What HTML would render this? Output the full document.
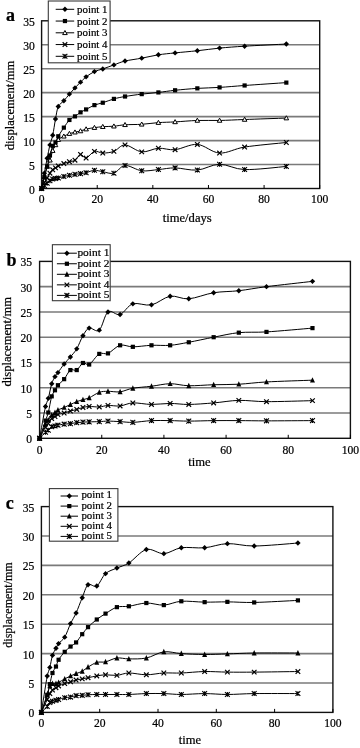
<!DOCTYPE html>
<html><head><meta charset="utf-8"><title>displacement charts</title>
<style>
html,body{margin:0;padding:0;background:#fff;width:360px;height:748px;overflow:hidden;}
svg{display:block;will-change:transform;}
svg text{font-family:"Liberation Serif", serif;stroke:#000;stroke-width:0.22px;}
</style></head><body>
<svg width="360" height="748" viewBox="0 0 360 748" font-family='"Liberation Serif", serif' fill="#000">
<line x1="41.60" y1="164.54" x2="319.70" y2="164.54" stroke="#7a7a7a" stroke-width="1.60"/>
<line x1="41.60" y1="140.59" x2="319.70" y2="140.59" stroke="#7a7a7a" stroke-width="1.60"/>
<line x1="41.60" y1="116.63" x2="319.70" y2="116.63" stroke="#7a7a7a" stroke-width="1.60"/>
<line x1="41.60" y1="92.67" x2="319.70" y2="92.67" stroke="#7a7a7a" stroke-width="1.60"/>
<line x1="41.60" y1="68.71" x2="319.70" y2="68.71" stroke="#7a7a7a" stroke-width="1.60"/>
<line x1="41.60" y1="44.76" x2="319.70" y2="44.76" stroke="#7a7a7a" stroke-width="1.60"/>
<rect x="41.60" y="20.80" width="278.10" height="167.70" fill="none" stroke="#111" stroke-width="1.40"/>
<line x1="41.60" y1="188.50" x2="41.60" y2="185.00" stroke="#000" stroke-width="1"/>
<line x1="97.22" y1="188.50" x2="97.22" y2="185.00" stroke="#000" stroke-width="1"/>
<line x1="152.84" y1="188.50" x2="152.84" y2="185.00" stroke="#000" stroke-width="1"/>
<line x1="208.46" y1="188.50" x2="208.46" y2="185.00" stroke="#000" stroke-width="1"/>
<line x1="264.08" y1="188.50" x2="264.08" y2="185.00" stroke="#000" stroke-width="1"/>
<line x1="319.70" y1="188.50" x2="319.70" y2="185.00" stroke="#000" stroke-width="1"/>
<text x="34.80" y="193.50" text-anchor="end" font-size="11.60">0</text>
<text x="34.80" y="169.54" text-anchor="end" font-size="11.60">5</text>
<text x="34.80" y="145.59" text-anchor="end" font-size="11.60">10</text>
<text x="34.80" y="121.63" text-anchor="end" font-size="11.60">15</text>
<text x="34.80" y="97.67" text-anchor="end" font-size="11.60">20</text>
<text x="34.80" y="73.71" text-anchor="end" font-size="11.60">25</text>
<text x="34.80" y="49.76" text-anchor="end" font-size="11.60">30</text>
<text x="34.80" y="25.80" text-anchor="end" font-size="11.60">35</text>
<text x="41.60" y="203.40" text-anchor="middle" font-size="11.60">0</text>
<text x="97.22" y="203.40" text-anchor="middle" font-size="11.60">20</text>
<text x="152.84" y="203.40" text-anchor="middle" font-size="11.60">40</text>
<text x="208.46" y="203.40" text-anchor="middle" font-size="11.60">60</text>
<text x="264.08" y="203.40" text-anchor="middle" font-size="11.60">80</text>
<text x="319.70" y="203.40" text-anchor="middle" font-size="11.60">100</text>
<text x="187.20" y="222.30" text-anchor="middle" font-size="12.60">time/days</text>
<text transform="translate(14.00 105.50) rotate(-90)" text-anchor="middle" font-size="12.60">displacement/mm</text>
<text x="6.00" y="20.80" font-size="18.00" font-weight="bold">a</text>
<path d="M41.60 188.50 C42.06 188.02 43.45 186.50 44.38 185.63 C45.31 184.75 46.23 184.03 47.16 183.23 C48.09 182.43 49.02 181.55 49.94 180.83 C50.87 180.12 51.80 179.32 52.72 178.92 C53.65 178.52 54.58 178.60 55.50 178.44 C56.43 178.28 57.19 178.21 58.29 177.96 C59.68 177.64 61.99 176.96 63.85 176.52 C65.70 176.08 67.56 175.68 69.41 175.32 C71.26 174.96 73.12 174.64 74.97 174.37 C76.83 174.09 78.68 173.93 80.53 173.65 C82.39 173.37 83.90 173.22 86.10 172.69 C88.41 172.13 91.66 170.45 94.44 170.29 C97.22 170.13 99.54 171.25 102.78 171.73 C106.03 172.21 110.20 174.21 113.91 173.17 C117.61 172.13 120.39 165.90 125.03 165.50 C129.66 165.10 136.15 170.09 141.72 170.77 C147.28 171.45 152.84 170.05 158.40 169.57 C163.96 169.09 168.60 167.82 175.09 167.90 C181.58 167.98 189.92 170.65 197.34 170.05 C204.75 169.45 211.70 164.38 219.58 164.30 C227.46 164.22 234.39 169.24 244.61 169.57 C255.74 169.93 279.38 166.98 286.33 166.46" fill="none" stroke="#000" stroke-width="1.00"/>
<path d="M39.20 186.10L44.00 190.90M39.20 190.90L44.00 186.10M41.60 186.10L41.60 190.90" stroke="#000" stroke-width="1.1"/>
<path d="M41.98 183.23L46.78 188.03M41.98 188.03L46.78 183.23M44.38 183.23L44.38 188.03" stroke="#000" stroke-width="1.1"/>
<path d="M44.76 180.83L49.56 185.63M44.76 185.63L49.56 180.83M47.16 180.83L47.16 185.63" stroke="#000" stroke-width="1.1"/>
<path d="M47.54 178.43L52.34 183.23M47.54 183.23L52.34 178.43M49.94 178.43L49.94 183.23" stroke="#000" stroke-width="1.1"/>
<path d="M50.32 176.52L55.12 181.32M50.32 181.32L55.12 176.52M52.72 176.52L52.72 181.32" stroke="#000" stroke-width="1.1"/>
<path d="M53.10 176.04L57.90 180.84M53.10 180.84L57.90 176.04M55.50 176.04L55.50 180.84" stroke="#000" stroke-width="1.1"/>
<path d="M55.89 175.56L60.69 180.36M55.89 180.36L60.69 175.56M58.29 175.56L58.29 180.36" stroke="#000" stroke-width="1.1"/>
<path d="M61.45 174.12L66.25 178.92M61.45 178.92L66.25 174.12M63.85 174.12L63.85 178.92" stroke="#000" stroke-width="1.1"/>
<path d="M67.01 172.92L71.81 177.72M67.01 177.72L71.81 172.92M69.41 172.92L69.41 177.72" stroke="#000" stroke-width="1.1"/>
<path d="M72.57 171.97L77.37 176.77M72.57 176.77L77.37 171.97M74.97 171.97L74.97 176.77" stroke="#000" stroke-width="1.1"/>
<path d="M78.13 171.25L82.93 176.05M78.13 176.05L82.93 171.25M80.53 171.25L80.53 176.05" stroke="#000" stroke-width="1.1"/>
<path d="M83.70 170.29L88.50 175.09M83.70 175.09L88.50 170.29M86.10 170.29L86.10 175.09" stroke="#000" stroke-width="1.1"/>
<path d="M92.04 167.89L96.84 172.69M92.04 172.69L96.84 167.89M94.44 167.89L94.44 172.69" stroke="#000" stroke-width="1.1"/>
<path d="M100.38 169.33L105.18 174.13M100.38 174.13L105.18 169.33M102.78 169.33L102.78 174.13" stroke="#000" stroke-width="1.1"/>
<path d="M111.51 170.77L116.31 175.57M111.51 175.57L116.31 170.77M113.91 170.77L113.91 175.57" stroke="#000" stroke-width="1.1"/>
<path d="M122.63 163.10L127.43 167.90M122.63 167.90L127.43 163.10M125.03 163.10L125.03 167.90" stroke="#000" stroke-width="1.1"/>
<path d="M139.32 168.37L144.12 173.17M139.32 173.17L144.12 168.37M141.72 168.37L141.72 173.17" stroke="#000" stroke-width="1.1"/>
<path d="M156.00 167.17L160.80 171.97M156.00 171.97L160.80 167.17M158.40 167.17L158.40 171.97" stroke="#000" stroke-width="1.1"/>
<path d="M172.69 165.50L177.49 170.30M172.69 170.30L177.49 165.50M175.09 165.50L175.09 170.30" stroke="#000" stroke-width="1.1"/>
<path d="M194.94 167.65L199.74 172.45M194.94 172.45L199.74 167.65M197.34 167.65L197.34 172.45" stroke="#000" stroke-width="1.1"/>
<path d="M217.18 161.90L221.98 166.70M217.18 166.70L221.98 161.90M219.58 161.90L219.58 166.70" stroke="#000" stroke-width="1.1"/>
<path d="M242.21 167.17L247.01 171.97M242.21 171.97L247.01 167.17M244.61 167.17L244.61 171.97" stroke="#000" stroke-width="1.1"/>
<path d="M283.93 164.06L288.73 168.86M283.93 168.86L288.73 164.06M286.33 164.06L286.33 168.86" stroke="#000" stroke-width="1.1"/>
<path d="M41.60 188.50 C42.06 187.50 43.45 184.27 44.38 182.51 C45.31 180.75 46.23 179.52 47.16 177.96 C48.09 176.40 49.02 174.52 49.94 173.17 C50.87 171.81 51.80 170.69 52.72 169.81 C53.65 168.94 54.58 168.54 55.50 167.90 C56.43 167.26 57.09 166.60 58.29 165.98 C59.68 165.26 61.99 164.30 63.85 163.58 C65.70 162.87 67.56 162.23 69.41 161.67 C71.26 161.11 73.12 161.43 74.97 160.23 C76.83 159.03 78.68 154.84 80.53 154.48 C82.39 154.12 83.78 158.59 86.10 158.07 C88.41 157.56 91.66 152.20 94.44 151.37 C97.22 150.53 99.54 153.04 102.78 153.04 C106.03 153.04 110.20 152.72 113.91 151.37 C117.61 150.01 120.39 144.82 125.03 144.90 C129.66 144.98 136.15 151.29 141.72 151.85 C147.28 152.40 152.84 148.61 158.40 148.25 C163.96 147.89 168.60 150.33 175.09 149.69 C181.58 149.05 189.92 143.86 197.34 144.42 C204.75 144.98 211.70 152.60 219.58 153.04 C227.46 153.48 234.44 148.66 244.61 147.05 C255.74 145.30 279.38 143.26 286.33 142.50" fill="none" stroke="#000" stroke-width="1.00"/>
<path d="M39.30 186.20L43.90 190.80M39.30 190.80L43.90 186.20" stroke="#000" stroke-width="1.2"/>
<path d="M42.08 180.21L46.68 184.81M42.08 184.81L46.68 180.21" stroke="#000" stroke-width="1.2"/>
<path d="M44.86 175.66L49.46 180.26M44.86 180.26L49.46 175.66" stroke="#000" stroke-width="1.2"/>
<path d="M47.64 170.87L52.24 175.47M47.64 175.47L52.24 170.87" stroke="#000" stroke-width="1.2"/>
<path d="M50.42 167.51L55.02 172.11M50.42 172.11L55.02 167.51" stroke="#000" stroke-width="1.2"/>
<path d="M53.20 165.60L57.80 170.20M53.20 170.20L57.80 165.60" stroke="#000" stroke-width="1.2"/>
<path d="M55.99 163.68L60.59 168.28M55.99 168.28L60.59 163.68" stroke="#000" stroke-width="1.2"/>
<path d="M61.55 161.28L66.15 165.88M61.55 165.88L66.15 161.28" stroke="#000" stroke-width="1.2"/>
<path d="M67.11 159.37L71.71 163.97M67.11 163.97L71.71 159.37" stroke="#000" stroke-width="1.2"/>
<path d="M72.67 157.93L77.27 162.53M72.67 162.53L77.27 157.93" stroke="#000" stroke-width="1.2"/>
<path d="M78.23 152.18L82.83 156.78M78.23 156.78L82.83 152.18" stroke="#000" stroke-width="1.2"/>
<path d="M83.80 155.77L88.40 160.37M83.80 160.37L88.40 155.77" stroke="#000" stroke-width="1.2"/>
<path d="M92.14 149.07L96.74 153.67M92.14 153.67L96.74 149.07" stroke="#000" stroke-width="1.2"/>
<path d="M100.48 150.74L105.08 155.34M100.48 155.34L105.08 150.74" stroke="#000" stroke-width="1.2"/>
<path d="M111.61 149.07L116.21 153.67M111.61 153.67L116.21 149.07" stroke="#000" stroke-width="1.2"/>
<path d="M122.73 142.60L127.33 147.20M122.73 147.20L127.33 142.60" stroke="#000" stroke-width="1.2"/>
<path d="M139.42 149.55L144.02 154.15M139.42 154.15L144.02 149.55" stroke="#000" stroke-width="1.2"/>
<path d="M156.10 145.95L160.70 150.55M156.10 150.55L160.70 145.95" stroke="#000" stroke-width="1.2"/>
<path d="M172.79 147.39L177.39 151.99M172.79 151.99L177.39 147.39" stroke="#000" stroke-width="1.2"/>
<path d="M195.04 142.12L199.64 146.72M195.04 146.72L199.64 142.12" stroke="#000" stroke-width="1.2"/>
<path d="M217.28 150.74L221.88 155.34M217.28 155.34L221.88 150.74" stroke="#000" stroke-width="1.2"/>
<path d="M242.31 144.75L246.91 149.35M242.31 149.35L246.91 144.75" stroke="#000" stroke-width="1.2"/>
<path d="M284.03 140.20L288.63 144.80M284.03 144.80L288.63 140.20" stroke="#000" stroke-width="1.2"/>
<path d="M41.60 188.50 C42.06 186.58 43.45 180.67 44.38 177.00 C45.31 173.33 46.23 169.25 47.16 166.46 C48.02 163.87 49.04 162.80 49.94 160.23 C50.87 157.60 51.80 153.20 52.72 150.65 C53.60 148.25 54.58 146.73 55.50 144.90 C56.43 143.06 56.90 141.06 58.29 139.63 C59.68 138.19 61.99 137.27 63.85 136.27 C65.70 135.28 67.56 134.32 69.41 133.64 C71.26 132.96 73.12 132.64 74.97 132.20 C76.83 131.76 78.68 131.52 80.53 131.00 C82.39 130.48 83.81 129.64 86.10 129.09 C88.41 128.53 91.66 128.05 94.44 127.65 C97.22 127.25 99.54 126.93 102.78 126.69 C106.03 126.45 110.20 126.53 113.91 126.21 C117.61 125.89 120.55 125.08 125.03 124.77 C129.66 124.45 136.15 124.65 141.72 124.29 C147.28 123.94 152.84 123.02 158.40 122.62 C163.96 122.22 168.60 122.26 175.09 121.90 C181.58 121.54 189.92 120.70 197.34 120.46 C204.75 120.22 211.70 120.62 219.58 120.46 C227.46 120.30 234.60 119.86 244.61 119.50 C255.74 119.10 279.38 118.31 286.33 118.07" fill="none" stroke="#000" stroke-width="1.00"/>
<path d="M41.60 186.20L43.90 190.28L39.30 190.28Z" fill="#fff" stroke="#000" stroke-width="1"/>
<path d="M44.38 174.70L46.68 178.78L42.08 178.78Z" fill="#fff" stroke="#000" stroke-width="1"/>
<path d="M47.16 164.16L49.46 168.24L44.86 168.24Z" fill="#fff" stroke="#000" stroke-width="1"/>
<path d="M49.94 157.93L52.24 162.01L47.64 162.01Z" fill="#fff" stroke="#000" stroke-width="1"/>
<path d="M52.72 148.35L55.02 152.43L50.42 152.43Z" fill="#fff" stroke="#000" stroke-width="1"/>
<path d="M55.50 142.60L57.80 146.68L53.20 146.68Z" fill="#fff" stroke="#000" stroke-width="1"/>
<path d="M58.29 137.33L60.59 141.41L55.99 141.41Z" fill="#fff" stroke="#000" stroke-width="1"/>
<path d="M63.85 133.97L66.15 138.05L61.55 138.05Z" fill="#fff" stroke="#000" stroke-width="1"/>
<path d="M69.41 131.34L71.71 135.42L67.11 135.42Z" fill="#fff" stroke="#000" stroke-width="1"/>
<path d="M74.97 129.90L77.27 133.98L72.67 133.98Z" fill="#fff" stroke="#000" stroke-width="1"/>
<path d="M80.53 128.70L82.83 132.78L78.23 132.78Z" fill="#fff" stroke="#000" stroke-width="1"/>
<path d="M86.10 126.79L88.40 130.87L83.80 130.87Z" fill="#fff" stroke="#000" stroke-width="1"/>
<path d="M94.44 125.35L96.74 129.43L92.14 129.43Z" fill="#fff" stroke="#000" stroke-width="1"/>
<path d="M102.78 124.39L105.08 128.47L100.48 128.47Z" fill="#fff" stroke="#000" stroke-width="1"/>
<path d="M113.91 123.91L116.21 127.99L111.61 127.99Z" fill="#fff" stroke="#000" stroke-width="1"/>
<path d="M125.03 122.47L127.33 126.55L122.73 126.55Z" fill="#fff" stroke="#000" stroke-width="1"/>
<path d="M141.72 121.99L144.02 126.07L139.42 126.07Z" fill="#fff" stroke="#000" stroke-width="1"/>
<path d="M158.40 120.32L160.70 124.40L156.10 124.40Z" fill="#fff" stroke="#000" stroke-width="1"/>
<path d="M175.09 119.60L177.39 123.68L172.79 123.68Z" fill="#fff" stroke="#000" stroke-width="1"/>
<path d="M197.34 118.16L199.64 122.24L195.04 122.24Z" fill="#fff" stroke="#000" stroke-width="1"/>
<path d="M219.58 118.16L221.88 122.24L217.28 122.24Z" fill="#fff" stroke="#000" stroke-width="1"/>
<path d="M244.61 117.20L246.91 121.28L242.31 121.28Z" fill="#fff" stroke="#000" stroke-width="1"/>
<path d="M286.33 115.77L288.63 119.85L284.03 119.85Z" fill="#fff" stroke="#000" stroke-width="1"/>
<path d="M41.60 188.50 C42.06 186.58 43.45 180.67 44.38 177.00 C45.31 173.33 46.23 170.05 47.16 166.46 C48.09 162.87 49.02 158.87 49.94 155.44 C50.87 152.01 51.80 148.01 52.72 145.86 C53.41 144.26 54.63 144.01 55.50 142.50 C56.43 140.91 56.95 138.65 58.29 136.27 C59.68 133.80 61.99 130.36 63.85 127.65 C65.70 124.93 67.56 121.86 69.41 119.98 C71.26 118.11 73.12 117.67 74.97 116.39 C76.83 115.11 78.68 113.47 80.53 112.32 C82.39 111.16 83.87 110.59 86.10 109.44 C88.41 108.24 91.66 106.25 94.44 105.13 C97.22 104.01 99.54 103.77 102.78 102.73 C106.03 101.70 110.20 99.94 113.91 98.90 C117.61 97.86 120.54 97.28 125.03 96.50 C129.66 95.71 136.15 94.79 141.72 94.11 C147.28 93.43 152.84 93.07 158.40 92.43 C163.96 91.79 168.60 90.95 175.09 90.28 C181.58 89.60 189.92 88.84 197.34 88.36 C204.75 87.88 211.70 87.88 219.58 87.40 C227.46 86.92 234.60 86.20 244.61 85.48 C255.74 84.69 279.38 83.09 286.33 82.61" fill="none" stroke="#000" stroke-width="1.00"/>
<rect x="39.50" y="186.40" width="4.20" height="4.20" fill="#000"/>
<rect x="42.28" y="174.90" width="4.20" height="4.20" fill="#000"/>
<rect x="45.06" y="164.36" width="4.20" height="4.20" fill="#000"/>
<rect x="47.84" y="153.34" width="4.20" height="4.20" fill="#000"/>
<rect x="50.62" y="143.76" width="4.20" height="4.20" fill="#000"/>
<rect x="53.40" y="140.40" width="4.20" height="4.20" fill="#000"/>
<rect x="56.19" y="134.17" width="4.20" height="4.20" fill="#000"/>
<rect x="61.75" y="125.55" width="4.20" height="4.20" fill="#000"/>
<rect x="67.31" y="117.88" width="4.20" height="4.20" fill="#000"/>
<rect x="72.87" y="114.29" width="4.20" height="4.20" fill="#000"/>
<rect x="78.43" y="110.22" width="4.20" height="4.20" fill="#000"/>
<rect x="84.00" y="107.34" width="4.20" height="4.20" fill="#000"/>
<rect x="92.34" y="103.03" width="4.20" height="4.20" fill="#000"/>
<rect x="100.68" y="100.63" width="4.20" height="4.20" fill="#000"/>
<rect x="111.81" y="96.80" width="4.20" height="4.20" fill="#000"/>
<rect x="122.93" y="94.40" width="4.20" height="4.20" fill="#000"/>
<rect x="139.62" y="92.01" width="4.20" height="4.20" fill="#000"/>
<rect x="156.30" y="90.33" width="4.20" height="4.20" fill="#000"/>
<rect x="172.99" y="88.18" width="4.20" height="4.20" fill="#000"/>
<rect x="195.24" y="86.26" width="4.20" height="4.20" fill="#000"/>
<rect x="217.48" y="85.30" width="4.20" height="4.20" fill="#000"/>
<rect x="242.51" y="83.38" width="4.20" height="4.20" fill="#000"/>
<rect x="284.23" y="80.51" width="4.20" height="4.20" fill="#000"/>
<path d="M41.60 188.50 C42.06 185.94 43.45 178.20 44.38 173.17 C45.31 168.14 46.23 163.03 47.16 158.31 C48.09 153.60 49.02 148.73 49.94 144.90 C50.87 141.06 51.89 139.22 52.72 135.32 C53.65 131.00 54.58 123.82 55.50 119.02 C56.43 114.23 56.90 109.60 58.29 106.57 C59.62 103.66 61.99 102.89 63.85 100.82 C65.70 98.74 67.56 96.27 69.41 94.11 C71.26 91.95 73.12 89.88 74.97 87.88 C76.83 85.88 78.68 83.97 80.53 82.13 C82.39 80.29 83.78 78.62 86.10 76.86 C88.41 75.10 91.66 72.91 94.44 71.59 C97.22 70.27 99.54 70.07 102.78 68.95 C106.03 67.84 110.20 66.20 113.91 64.88 C117.61 63.56 120.45 62.15 125.03 61.05 C129.66 59.93 136.15 59.21 141.72 58.17 C147.28 57.14 152.84 55.70 158.40 54.82 C163.96 53.94 168.60 53.58 175.09 52.90 C181.58 52.22 189.92 51.54 197.34 50.75 C204.75 49.95 211.70 48.87 219.58 48.11 C227.46 47.35 234.59 46.81 244.61 46.19 C255.74 45.52 279.38 44.40 286.33 44.04" fill="none" stroke="#000" stroke-width="1.00"/>
<path d="M41.60 185.80L44.30 188.50L41.60 191.20L38.90 188.50Z" fill="#000"/>
<path d="M44.38 170.47L47.08 173.17L44.38 175.87L41.68 173.17Z" fill="#000"/>
<path d="M47.16 155.61L49.86 158.31L47.16 161.01L44.46 158.31Z" fill="#000"/>
<path d="M49.94 142.20L52.64 144.90L49.94 147.60L47.24 144.90Z" fill="#000"/>
<path d="M52.72 132.62L55.42 135.32L52.72 138.02L50.02 135.32Z" fill="#000"/>
<path d="M55.50 116.32L58.20 119.02L55.50 121.72L52.80 119.02Z" fill="#000"/>
<path d="M58.29 103.87L60.99 106.57L58.29 109.27L55.59 106.57Z" fill="#000"/>
<path d="M63.85 98.12L66.55 100.82L63.85 103.52L61.15 100.82Z" fill="#000"/>
<path d="M69.41 91.41L72.11 94.11L69.41 96.81L66.71 94.11Z" fill="#000"/>
<path d="M74.97 85.18L77.67 87.88L74.97 90.58L72.27 87.88Z" fill="#000"/>
<path d="M80.53 79.43L83.23 82.13L80.53 84.83L77.83 82.13Z" fill="#000"/>
<path d="M86.10 74.16L88.80 76.86L86.10 79.56L83.40 76.86Z" fill="#000"/>
<path d="M94.44 68.89L97.14 71.59L94.44 74.29L91.74 71.59Z" fill="#000"/>
<path d="M102.78 66.25L105.48 68.95L102.78 71.65L100.08 68.95Z" fill="#000"/>
<path d="M113.91 62.18L116.61 64.88L113.91 67.58L111.21 64.88Z" fill="#000"/>
<path d="M125.03 58.35L127.73 61.05L125.03 63.75L122.33 61.05Z" fill="#000"/>
<path d="M141.72 55.47L144.42 58.17L141.72 60.87L139.02 58.17Z" fill="#000"/>
<path d="M158.40 52.12L161.10 54.82L158.40 57.52L155.70 54.82Z" fill="#000"/>
<path d="M175.09 50.20L177.79 52.90L175.09 55.60L172.39 52.90Z" fill="#000"/>
<path d="M197.34 48.05L200.04 50.75L197.34 53.45L194.64 50.75Z" fill="#000"/>
<path d="M219.58 45.41L222.28 48.11L219.58 50.81L216.88 48.11Z" fill="#000"/>
<path d="M244.61 43.49L247.31 46.19L244.61 48.89L241.91 46.19Z" fill="#000"/>
<path d="M286.33 41.34L289.03 44.04L286.33 46.74L283.63 44.04Z" fill="#000"/>
<rect x="48.30" y="1.00" width="61.80" height="61.80" fill="#fff" stroke="#3a3a3a" stroke-width="1.1"/>
<line x1="55.70" y1="9.30" x2="74.20" y2="9.30" stroke="#000" stroke-width="1"/>
<path d="M64.95 6.60L67.65 9.30L64.95 12.00L62.25 9.30Z" fill="#000"/>
<text x="77.00" y="12.90" font-size="10.90">point 1</text>
<line x1="55.70" y1="21.05" x2="74.20" y2="21.05" stroke="#000" stroke-width="1"/>
<rect x="62.85" y="18.95" width="4.20" height="4.20" fill="#000"/>
<text x="77.00" y="24.65" font-size="10.90">point 2</text>
<line x1="55.70" y1="32.80" x2="74.20" y2="32.80" stroke="#000" stroke-width="1"/>
<path d="M64.95 30.50L67.25 34.58L62.65 34.58Z" fill="#fff" stroke="#000" stroke-width="1"/>
<text x="77.00" y="36.40" font-size="10.90">point 3</text>
<line x1="55.70" y1="44.55" x2="74.20" y2="44.55" stroke="#000" stroke-width="1"/>
<path d="M62.65 42.25L67.25 46.85M62.65 46.85L67.25 42.25" stroke="#000" stroke-width="1.2"/>
<text x="77.00" y="48.15" font-size="10.90">point 4</text>
<line x1="55.70" y1="56.30" x2="74.20" y2="56.30" stroke="#000" stroke-width="1"/>
<path d="M62.55 53.90L67.35 58.70M62.55 58.70L67.35 53.90M64.95 53.90L64.95 58.70" stroke="#000" stroke-width="1.1"/>
<text x="77.00" y="59.90" font-size="10.90">point 5</text>
<line x1="39.60" y1="413.03" x2="350.40" y2="413.03" stroke="#7a7a7a" stroke-width="1.60"/>
<line x1="39.60" y1="387.76" x2="350.40" y2="387.76" stroke="#7a7a7a" stroke-width="1.60"/>
<line x1="39.60" y1="362.49" x2="350.40" y2="362.49" stroke="#7a7a7a" stroke-width="1.60"/>
<line x1="39.60" y1="337.21" x2="350.40" y2="337.21" stroke="#7a7a7a" stroke-width="1.60"/>
<line x1="39.60" y1="311.94" x2="350.40" y2="311.94" stroke="#7a7a7a" stroke-width="1.60"/>
<line x1="39.60" y1="286.67" x2="350.40" y2="286.67" stroke="#7a7a7a" stroke-width="1.60"/>
<rect x="39.60" y="261.40" width="310.80" height="176.90" fill="none" stroke="#111" stroke-width="1.40"/>
<line x1="39.60" y1="438.30" x2="39.60" y2="434.80" stroke="#000" stroke-width="1"/>
<line x1="101.76" y1="438.30" x2="101.76" y2="434.80" stroke="#000" stroke-width="1"/>
<line x1="163.92" y1="438.30" x2="163.92" y2="434.80" stroke="#000" stroke-width="1"/>
<line x1="226.08" y1="438.30" x2="226.08" y2="434.80" stroke="#000" stroke-width="1"/>
<line x1="288.24" y1="438.30" x2="288.24" y2="434.80" stroke="#000" stroke-width="1"/>
<line x1="350.40" y1="438.30" x2="350.40" y2="434.80" stroke="#000" stroke-width="1"/>
<text x="32.00" y="443.30" text-anchor="end" font-size="11.60">0</text>
<text x="32.00" y="418.03" text-anchor="end" font-size="11.60">5</text>
<text x="32.00" y="392.76" text-anchor="end" font-size="11.60">10</text>
<text x="32.00" y="367.49" text-anchor="end" font-size="11.60">15</text>
<text x="32.00" y="342.21" text-anchor="end" font-size="11.60">20</text>
<text x="32.00" y="316.94" text-anchor="end" font-size="11.60">25</text>
<text x="32.00" y="291.67" text-anchor="end" font-size="11.60">30</text>
<text x="32.00" y="266.40" text-anchor="end" font-size="11.60">35</text>
<text x="39.60" y="453.60" text-anchor="middle" font-size="11.60">0</text>
<text x="101.76" y="453.60" text-anchor="middle" font-size="11.60">20</text>
<text x="163.92" y="453.60" text-anchor="middle" font-size="11.60">40</text>
<text x="226.08" y="453.60" text-anchor="middle" font-size="11.60">60</text>
<text x="288.24" y="453.60" text-anchor="middle" font-size="11.60">80</text>
<text x="350.40" y="453.60" text-anchor="middle" font-size="11.60">100</text>
<text x="199.40" y="466.00" text-anchor="middle" font-size="12.60">time</text>
<text transform="translate(10.50 341.80) rotate(-90)" text-anchor="middle" font-size="12.60">displacement/mm</text>
<text x="6.40" y="265.70" font-size="18.00" font-weight="bold">b</text>
<path d="M39.60 438.30 C40.58 437.29 44.05 433.58 45.51 432.23 C46.52 431.30 47.27 431.13 48.30 430.21 C49.34 429.29 50.61 427.39 51.72 426.68 C52.83 425.96 53.95 426.17 54.98 425.92 C56.02 425.66 56.74 425.39 57.94 425.16 C59.47 424.86 62.08 424.40 64.15 424.15 C66.23 423.90 68.27 423.90 70.37 423.64 C72.47 423.39 74.64 422.88 76.74 422.63 C78.84 422.38 80.88 422.25 82.96 422.13 C85.03 422.00 86.69 421.95 89.17 421.87 C91.89 421.79 96.14 421.75 99.27 421.62 C102.41 421.49 104.51 421.12 107.98 421.12 C111.45 421.12 115.95 421.41 120.10 421.62 C124.24 421.83 127.74 422.54 132.84 422.38 C138.07 422.21 145.27 420.90 151.49 420.61 C157.70 420.32 163.92 420.53 170.14 420.61 C176.35 420.69 181.53 421.12 188.78 421.12 C196.04 421.12 205.31 420.69 213.65 420.61 C221.99 420.53 230.02 420.57 238.82 420.61 C247.63 420.65 255.42 420.86 266.48 420.86 C278.76 420.86 304.82 420.65 312.48 420.61" fill="none" stroke="#000" stroke-width="1.00"/>
<path d="M37.20 435.90L42.00 440.70M37.20 440.70L42.00 435.90M39.60 435.90L39.60 440.70" stroke="#000" stroke-width="1.1"/>
<path d="M43.11 429.83L47.91 434.63M43.11 434.63L47.91 429.83M45.51 429.83L45.51 434.63" stroke="#000" stroke-width="1.1"/>
<path d="M45.90 427.81L50.70 432.61M45.90 432.61L50.70 427.81M48.30 427.81L48.30 432.61" stroke="#000" stroke-width="1.1"/>
<path d="M49.32 424.28L54.12 429.08M49.32 429.08L54.12 424.28M51.72 424.28L51.72 429.08" stroke="#000" stroke-width="1.1"/>
<path d="M52.58 423.52L57.38 428.32M52.58 428.32L57.38 423.52M54.98 423.52L54.98 428.32" stroke="#000" stroke-width="1.1"/>
<path d="M55.54 422.76L60.34 427.56M55.54 427.56L60.34 422.76M57.94 422.76L57.94 427.56" stroke="#000" stroke-width="1.1"/>
<path d="M61.75 421.75L66.55 426.55M61.75 426.55L66.55 421.75M64.15 421.75L64.15 426.55" stroke="#000" stroke-width="1.1"/>
<path d="M67.97 421.24L72.77 426.04M67.97 426.04L72.77 421.24M70.37 421.24L70.37 426.04" stroke="#000" stroke-width="1.1"/>
<path d="M74.34 420.23L79.14 425.03M74.34 425.03L79.14 420.23M76.74 420.23L76.74 425.03" stroke="#000" stroke-width="1.1"/>
<path d="M80.56 419.73L85.36 424.53M80.56 424.53L85.36 419.73M82.96 419.73L82.96 424.53" stroke="#000" stroke-width="1.1"/>
<path d="M86.77 419.47L91.57 424.27M86.77 424.27L91.57 419.47M89.17 419.47L89.17 424.27" stroke="#000" stroke-width="1.1"/>
<path d="M96.87 419.22L101.67 424.02M96.87 424.02L101.67 419.22M99.27 419.22L99.27 424.02" stroke="#000" stroke-width="1.1"/>
<path d="M105.58 418.72L110.38 423.52M105.58 423.52L110.38 418.72M107.98 418.72L107.98 423.52" stroke="#000" stroke-width="1.1"/>
<path d="M117.70 419.22L122.50 424.02M117.70 424.02L122.50 419.22M120.10 419.22L120.10 424.02" stroke="#000" stroke-width="1.1"/>
<path d="M130.44 419.98L135.24 424.78M130.44 424.78L135.24 419.98M132.84 419.98L132.84 424.78" stroke="#000" stroke-width="1.1"/>
<path d="M149.09 418.21L153.89 423.01M149.09 423.01L153.89 418.21M151.49 418.21L151.49 423.01" stroke="#000" stroke-width="1.1"/>
<path d="M167.74 418.21L172.54 423.01M167.74 423.01L172.54 418.21M170.14 418.21L170.14 423.01" stroke="#000" stroke-width="1.1"/>
<path d="M186.38 418.72L191.18 423.52M186.38 423.52L191.18 418.72M188.78 418.72L188.78 423.52" stroke="#000" stroke-width="1.1"/>
<path d="M211.25 418.21L216.05 423.01M211.25 423.01L216.05 418.21M213.65 418.21L213.65 423.01" stroke="#000" stroke-width="1.1"/>
<path d="M236.42 418.21L241.22 423.01M236.42 423.01L241.22 418.21M238.82 418.21L238.82 423.01" stroke="#000" stroke-width="1.1"/>
<path d="M264.08 418.46L268.88 423.26M264.08 423.26L268.88 418.46M266.48 418.46L266.48 423.26" stroke="#000" stroke-width="1.1"/>
<path d="M310.08 418.21L314.88 423.01M310.08 423.01L314.88 418.21M312.48 418.21L312.48 423.01" stroke="#000" stroke-width="1.1"/>
<path d="M39.60 438.30 C40.58 436.45 44.05 429.62 45.51 427.18 C46.43 425.63 47.27 425.07 48.30 423.64 C49.34 422.21 50.61 419.77 51.72 418.59 C52.78 417.47 53.95 417.24 54.98 416.57 C56.02 415.89 56.60 415.06 57.94 414.54 C59.47 413.96 62.08 413.62 64.15 413.03 C66.23 412.44 68.27 411.60 70.37 411.01 C72.47 410.42 74.64 410.08 76.74 409.49 C78.84 408.90 80.88 407.97 82.96 407.47 C85.03 406.96 86.65 406.54 89.17 406.46 C91.89 406.37 96.14 407.13 99.27 406.96 C102.41 406.79 104.51 405.62 107.98 405.45 C111.45 405.28 115.95 406.37 120.10 405.95 C124.24 405.53 127.61 403.17 132.84 402.92 C138.07 402.67 145.27 404.35 151.49 404.44 C157.70 404.52 163.92 403.43 170.14 403.43 C176.35 403.43 181.53 404.52 188.78 404.44 C196.04 404.35 205.31 403.59 213.65 402.92 C221.99 402.25 230.02 400.60 238.82 400.39 C247.63 400.18 255.41 401.62 266.48 401.66 C278.76 401.70 304.82 400.81 312.48 400.65" fill="none" stroke="#000" stroke-width="1.00"/>
<path d="M37.30 436.00L41.90 440.60M37.30 440.60L41.90 436.00" stroke="#000" stroke-width="1.2"/>
<path d="M43.21 424.88L47.81 429.48M43.21 429.48L47.81 424.88" stroke="#000" stroke-width="1.2"/>
<path d="M46.00 421.34L50.60 425.94M46.00 425.94L50.60 421.34" stroke="#000" stroke-width="1.2"/>
<path d="M49.42 416.29L54.02 420.89M49.42 420.89L54.02 416.29" stroke="#000" stroke-width="1.2"/>
<path d="M52.68 414.27L57.28 418.87M52.68 418.87L57.28 414.27" stroke="#000" stroke-width="1.2"/>
<path d="M55.64 412.24L60.24 416.84M55.64 416.84L60.24 412.24" stroke="#000" stroke-width="1.2"/>
<path d="M61.85 410.73L66.45 415.33M61.85 415.33L66.45 410.73" stroke="#000" stroke-width="1.2"/>
<path d="M68.07 408.71L72.67 413.31M68.07 413.31L72.67 408.71" stroke="#000" stroke-width="1.2"/>
<path d="M74.44 407.19L79.04 411.79M74.44 411.79L79.04 407.19" stroke="#000" stroke-width="1.2"/>
<path d="M80.66 405.17L85.26 409.77M80.66 409.77L85.26 405.17" stroke="#000" stroke-width="1.2"/>
<path d="M86.87 404.16L91.47 408.76M86.87 408.76L91.47 404.16" stroke="#000" stroke-width="1.2"/>
<path d="M96.97 404.66L101.57 409.26M96.97 409.26L101.57 404.66" stroke="#000" stroke-width="1.2"/>
<path d="M105.68 403.15L110.28 407.75M105.68 407.75L110.28 403.15" stroke="#000" stroke-width="1.2"/>
<path d="M117.80 403.65L122.40 408.25M117.80 408.25L122.40 403.65" stroke="#000" stroke-width="1.2"/>
<path d="M130.54 400.62L135.14 405.22M130.54 405.22L135.14 400.62" stroke="#000" stroke-width="1.2"/>
<path d="M149.19 402.14L153.79 406.74M149.19 406.74L153.79 402.14" stroke="#000" stroke-width="1.2"/>
<path d="M167.84 401.13L172.44 405.73M167.84 405.73L172.44 401.13" stroke="#000" stroke-width="1.2"/>
<path d="M186.48 402.14L191.08 406.74M186.48 406.74L191.08 402.14" stroke="#000" stroke-width="1.2"/>
<path d="M211.35 400.62L215.95 405.22M211.35 405.22L215.95 400.62" stroke="#000" stroke-width="1.2"/>
<path d="M236.52 398.09L241.12 402.69M236.52 402.69L241.12 398.09" stroke="#000" stroke-width="1.2"/>
<path d="M264.18 399.36L268.78 403.96M264.18 403.96L268.78 399.36" stroke="#000" stroke-width="1.2"/>
<path d="M310.18 398.35L314.78 402.95M310.18 402.95L314.78 398.35" stroke="#000" stroke-width="1.2"/>
<path d="M39.60 438.30 C40.58 435.94 44.05 427.18 45.51 424.15 C46.35 422.37 47.27 421.62 48.30 420.10 C49.34 418.59 50.61 416.31 51.72 415.05 C52.81 413.81 53.95 413.37 54.98 412.52 C56.02 411.68 56.58 410.75 57.94 410.00 C59.47 409.15 62.08 408.37 64.15 407.47 C66.23 406.57 68.27 405.56 70.37 404.59 C72.47 403.62 74.64 402.48 76.74 401.66 C78.84 400.83 80.88 400.27 82.96 399.63 C85.03 399.00 86.81 398.92 89.17 397.87 C91.89 396.64 96.14 393.40 99.27 392.31 C102.41 391.21 104.51 391.38 107.98 391.30 C111.45 391.21 115.95 392.31 120.10 391.80 C124.24 391.30 127.63 389.19 132.84 388.26 C138.07 387.34 145.27 387.00 151.49 386.24 C157.70 385.48 163.92 383.80 170.14 383.71 C176.35 383.63 181.53 385.57 188.78 385.74 C196.04 385.90 205.31 384.98 213.65 384.72 C221.99 384.47 230.02 384.68 238.82 384.22 C247.63 383.76 255.40 382.55 266.48 381.94 C278.76 381.27 304.82 380.47 312.48 380.18" fill="none" stroke="#000" stroke-width="1.00"/>
<path d="M39.60 435.30L42.10 440.70L37.10 440.70Z" fill="#000"/>
<path d="M45.51 421.15L48.01 426.55L43.01 426.55Z" fill="#000"/>
<path d="M48.30 417.10L50.80 422.50L45.80 422.50Z" fill="#000"/>
<path d="M51.72 412.05L54.22 417.45L49.22 417.45Z" fill="#000"/>
<path d="M54.98 409.52L57.48 414.92L52.48 414.92Z" fill="#000"/>
<path d="M57.94 407.00L60.44 412.40L55.44 412.40Z" fill="#000"/>
<path d="M64.15 404.47L66.65 409.87L61.65 409.87Z" fill="#000"/>
<path d="M70.37 401.59L72.87 406.99L67.87 406.99Z" fill="#000"/>
<path d="M76.74 398.66L79.24 404.06L74.24 404.06Z" fill="#000"/>
<path d="M82.96 396.63L85.46 402.03L80.46 402.03Z" fill="#000"/>
<path d="M89.17 394.87L91.67 400.27L86.67 400.27Z" fill="#000"/>
<path d="M99.27 389.31L101.77 394.71L96.77 394.71Z" fill="#000"/>
<path d="M107.98 388.30L110.48 393.70L105.48 393.70Z" fill="#000"/>
<path d="M120.10 388.80L122.60 394.20L117.60 394.20Z" fill="#000"/>
<path d="M132.84 385.26L135.34 390.66L130.34 390.66Z" fill="#000"/>
<path d="M151.49 383.24L153.99 388.64L148.99 388.64Z" fill="#000"/>
<path d="M170.14 380.71L172.64 386.11L167.64 386.11Z" fill="#000"/>
<path d="M188.78 382.74L191.28 388.14L186.28 388.14Z" fill="#000"/>
<path d="M213.65 381.72L216.15 387.12L211.15 387.12Z" fill="#000"/>
<path d="M238.82 381.22L241.32 386.62L236.32 386.62Z" fill="#000"/>
<path d="M266.48 378.94L268.98 384.34L263.98 384.34Z" fill="#000"/>
<path d="M312.48 377.18L314.98 382.58L309.98 382.58Z" fill="#000"/>
<path d="M39.60 438.30 C40.58 435.35 44.05 424.91 45.51 420.61 C46.60 417.37 47.45 415.84 48.30 412.52 C49.34 408.48 50.61 400.06 51.72 396.35 C52.51 393.71 53.95 392.14 54.98 390.28 C56.02 388.43 56.45 387.04 57.94 385.23 C59.47 383.38 62.08 381.69 64.15 379.16 C66.23 376.64 68.27 371.58 70.37 370.07 C72.43 368.57 74.64 371.25 76.74 370.07 C78.84 368.89 80.88 363.92 82.96 362.99 C85.03 362.06 86.94 365.75 89.17 364.51 C91.89 362.99 96.14 355.75 99.27 353.89 C102.27 352.12 104.75 354.72 107.98 353.39 C111.45 351.96 115.95 346.40 120.10 345.30 C124.24 344.21 127.71 346.82 132.84 346.82 C138.07 346.82 145.27 345.55 151.49 345.30 C157.70 345.05 163.92 345.81 170.14 345.30 C176.35 344.80 181.53 343.62 188.78 342.27 C196.04 340.92 205.31 338.81 213.65 337.21 C221.99 335.61 230.02 333.55 238.82 332.67 C247.63 331.78 255.44 332.59 266.48 331.91 C278.76 331.15 304.82 328.75 312.48 328.12" fill="none" stroke="#000" stroke-width="1.00"/>
<rect x="37.50" y="436.20" width="4.20" height="4.20" fill="#000"/>
<rect x="43.41" y="418.51" width="4.20" height="4.20" fill="#000"/>
<rect x="46.20" y="410.42" width="4.20" height="4.20" fill="#000"/>
<rect x="49.62" y="394.25" width="4.20" height="4.20" fill="#000"/>
<rect x="52.88" y="388.18" width="4.20" height="4.20" fill="#000"/>
<rect x="55.84" y="383.13" width="4.20" height="4.20" fill="#000"/>
<rect x="62.05" y="377.06" width="4.20" height="4.20" fill="#000"/>
<rect x="68.27" y="367.97" width="4.20" height="4.20" fill="#000"/>
<rect x="74.64" y="367.97" width="4.20" height="4.20" fill="#000"/>
<rect x="80.86" y="360.89" width="4.20" height="4.20" fill="#000"/>
<rect x="87.07" y="362.41" width="4.20" height="4.20" fill="#000"/>
<rect x="97.17" y="351.79" width="4.20" height="4.20" fill="#000"/>
<rect x="105.88" y="351.29" width="4.20" height="4.20" fill="#000"/>
<rect x="118.00" y="343.20" width="4.20" height="4.20" fill="#000"/>
<rect x="130.74" y="344.72" width="4.20" height="4.20" fill="#000"/>
<rect x="149.39" y="343.20" width="4.20" height="4.20" fill="#000"/>
<rect x="168.04" y="343.20" width="4.20" height="4.20" fill="#000"/>
<rect x="186.68" y="340.17" width="4.20" height="4.20" fill="#000"/>
<rect x="211.55" y="335.11" width="4.20" height="4.20" fill="#000"/>
<rect x="236.72" y="330.57" width="4.20" height="4.20" fill="#000"/>
<rect x="264.38" y="329.81" width="4.20" height="4.20" fill="#000"/>
<rect x="310.38" y="326.02" width="4.20" height="4.20" fill="#000"/>
<path d="M39.60 438.30 C40.58 432.99 44.05 413.11 45.51 406.46 C46.23 403.11 47.40 401.67 48.30 398.37 C49.34 394.58 50.61 387.34 51.72 383.71 C52.64 380.73 53.95 378.49 54.98 376.64 C55.96 374.89 56.76 374.22 57.94 372.59 C59.47 370.49 62.08 366.61 64.15 364.00 C66.23 361.39 68.27 359.45 70.37 356.93 C72.47 354.40 74.64 352.38 76.74 348.84 C78.84 345.30 80.88 339.15 82.96 335.70 C84.97 332.34 86.45 329.04 89.17 328.12 C91.89 327.19 96.15 332.83 99.27 330.14 C102.41 327.44 104.51 314.55 107.98 311.94 C111.45 309.33 115.95 315.82 120.10 314.47 C124.24 313.12 127.61 305.46 132.84 303.86 C138.07 302.26 145.27 306.13 151.49 304.87 C157.70 303.60 163.92 297.29 170.14 296.27 C176.35 295.26 181.53 299.39 188.78 298.80 C196.04 298.21 205.31 294.08 213.65 292.74 C221.99 291.39 230.02 291.73 238.82 290.71 C247.63 289.70 255.39 288.08 266.48 286.67 C278.76 285.11 304.82 282.25 312.48 281.36" fill="none" stroke="#000" stroke-width="1.00"/>
<path d="M39.60 435.60L42.30 438.30L39.60 441.00L36.90 438.30Z" fill="#000"/>
<path d="M45.51 403.76L48.21 406.46L45.51 409.16L42.81 406.46Z" fill="#000"/>
<path d="M48.30 395.67L51.00 398.37L48.30 401.07L45.60 398.37Z" fill="#000"/>
<path d="M51.72 381.01L54.42 383.71L51.72 386.41L49.02 383.71Z" fill="#000"/>
<path d="M54.98 373.94L57.68 376.64L54.98 379.34L52.28 376.64Z" fill="#000"/>
<path d="M57.94 369.89L60.64 372.59L57.94 375.29L55.24 372.59Z" fill="#000"/>
<path d="M64.15 361.30L66.85 364.00L64.15 366.70L61.45 364.00Z" fill="#000"/>
<path d="M70.37 354.23L73.07 356.93L70.37 359.63L67.67 356.93Z" fill="#000"/>
<path d="M76.74 346.14L79.44 348.84L76.74 351.54L74.04 348.84Z" fill="#000"/>
<path d="M82.96 333.00L85.66 335.70L82.96 338.40L80.26 335.70Z" fill="#000"/>
<path d="M89.17 325.42L91.87 328.12L89.17 330.82L86.47 328.12Z" fill="#000"/>
<path d="M99.27 327.44L101.97 330.14L99.27 332.84L96.57 330.14Z" fill="#000"/>
<path d="M107.98 309.24L110.68 311.94L107.98 314.64L105.28 311.94Z" fill="#000"/>
<path d="M120.10 311.77L122.80 314.47L120.10 317.17L117.40 314.47Z" fill="#000"/>
<path d="M132.84 301.16L135.54 303.86L132.84 306.56L130.14 303.86Z" fill="#000"/>
<path d="M151.49 302.17L154.19 304.87L151.49 307.57L148.79 304.87Z" fill="#000"/>
<path d="M170.14 293.57L172.84 296.27L170.14 298.97L167.44 296.27Z" fill="#000"/>
<path d="M188.78 296.10L191.48 298.80L188.78 301.50L186.08 298.80Z" fill="#000"/>
<path d="M213.65 290.04L216.35 292.74L213.65 295.44L210.95 292.74Z" fill="#000"/>
<path d="M238.82 288.01L241.52 290.71L238.82 293.41L236.12 290.71Z" fill="#000"/>
<path d="M266.48 283.97L269.18 286.67L266.48 289.37L263.78 286.67Z" fill="#000"/>
<path d="M312.48 278.66L315.18 281.36L312.48 284.06L309.78 281.36Z" fill="#000"/>
<rect x="52.40" y="244.70" width="57.80" height="56.00" fill="#fff" stroke="#3a3a3a" stroke-width="1.1"/>
<line x1="56.90" y1="253.20" x2="76.90" y2="253.20" stroke="#000" stroke-width="1"/>
<path d="M66.90 250.50L69.60 253.20L66.90 255.90L64.20 253.20Z" fill="#000"/>
<text x="77.40" y="256.10" font-size="11.40">point 1</text>
<line x1="56.90" y1="263.75" x2="76.90" y2="263.75" stroke="#000" stroke-width="1"/>
<rect x="64.80" y="261.65" width="4.20" height="4.20" fill="#000"/>
<text x="77.40" y="266.65" font-size="11.40">point 2</text>
<line x1="56.90" y1="274.30" x2="76.90" y2="274.30" stroke="#000" stroke-width="1"/>
<path d="M66.90 271.30L69.40 276.70L64.40 276.70Z" fill="#000"/>
<text x="77.40" y="277.20" font-size="11.40">point 3</text>
<line x1="56.90" y1="284.85" x2="76.90" y2="284.85" stroke="#000" stroke-width="1"/>
<path d="M64.60 282.55L69.20 287.15M64.60 287.15L69.20 282.55" stroke="#000" stroke-width="1.2"/>
<text x="77.40" y="287.75" font-size="11.40">point 4</text>
<line x1="56.90" y1="295.40" x2="76.90" y2="295.40" stroke="#000" stroke-width="1"/>
<path d="M64.50 293.00L69.30 297.80M64.50 297.80L69.30 293.00M66.90 293.00L66.90 297.80" stroke="#000" stroke-width="1.1"/>
<text x="77.40" y="298.30" font-size="11.40">point 5</text>
<line x1="41.40" y1="683.00" x2="332.90" y2="683.00" stroke="#7a7a7a" stroke-width="1.60"/>
<line x1="41.40" y1="653.60" x2="332.90" y2="653.60" stroke="#7a7a7a" stroke-width="1.60"/>
<line x1="41.40" y1="624.20" x2="332.90" y2="624.20" stroke="#7a7a7a" stroke-width="1.60"/>
<line x1="41.40" y1="594.80" x2="332.90" y2="594.80" stroke="#7a7a7a" stroke-width="1.60"/>
<line x1="41.40" y1="565.40" x2="332.90" y2="565.40" stroke="#7a7a7a" stroke-width="1.60"/>
<line x1="41.40" y1="536.00" x2="332.90" y2="536.00" stroke="#7a7a7a" stroke-width="1.60"/>
<rect x="41.40" y="506.60" width="291.50" height="205.80" fill="none" stroke="#111" stroke-width="1.40"/>
<line x1="41.40" y1="712.40" x2="41.40" y2="708.90" stroke="#000" stroke-width="1"/>
<line x1="99.70" y1="712.40" x2="99.70" y2="708.90" stroke="#000" stroke-width="1"/>
<line x1="158.00" y1="712.40" x2="158.00" y2="708.90" stroke="#000" stroke-width="1"/>
<line x1="216.30" y1="712.40" x2="216.30" y2="708.90" stroke="#000" stroke-width="1"/>
<line x1="274.60" y1="712.40" x2="274.60" y2="708.90" stroke="#000" stroke-width="1"/>
<line x1="332.90" y1="712.40" x2="332.90" y2="708.90" stroke="#000" stroke-width="1"/>
<text x="34.40" y="717.40" text-anchor="end" font-size="11.60">0</text>
<text x="34.40" y="688.00" text-anchor="end" font-size="11.60">5</text>
<text x="34.40" y="658.60" text-anchor="end" font-size="11.60">10</text>
<text x="34.40" y="629.20" text-anchor="end" font-size="11.60">15</text>
<text x="34.40" y="599.80" text-anchor="end" font-size="11.60">20</text>
<text x="34.40" y="570.40" text-anchor="end" font-size="11.60">25</text>
<text x="34.40" y="541.00" text-anchor="end" font-size="11.60">30</text>
<text x="34.40" y="511.60" text-anchor="end" font-size="11.60">35</text>
<text x="41.40" y="727.20" text-anchor="middle" font-size="11.60">0</text>
<text x="99.70" y="727.20" text-anchor="middle" font-size="11.60">20</text>
<text x="158.00" y="727.20" text-anchor="middle" font-size="11.60">40</text>
<text x="216.30" y="727.20" text-anchor="middle" font-size="11.60">60</text>
<text x="274.60" y="727.20" text-anchor="middle" font-size="11.60">80</text>
<text x="332.90" y="727.20" text-anchor="middle" font-size="11.60">100</text>
<text x="190.00" y="743.60" text-anchor="middle" font-size="12.60">time</text>
<text transform="translate(11.80 605.00) rotate(-90)" text-anchor="middle" font-size="12.00">displacement/mm</text>
<text x="5.80" y="509.00" font-size="18.00" font-weight="bold">c</text>
<path d="M41.40 712.40 C42.37 711.42 45.82 708.19 47.23 706.52 C48.49 705.03 48.98 703.29 49.85 702.40 C50.66 701.59 51.46 701.57 52.48 701.23 C53.50 700.88 54.95 700.64 55.97 700.35 C57.00 700.05 57.54 699.78 58.60 699.46 C60.06 699.02 62.73 698.09 64.72 697.70 C66.71 697.31 68.66 697.45 70.55 697.11 C72.44 696.77 74.15 695.94 76.09 695.64 C78.03 695.35 80.22 695.49 82.21 695.35 C84.20 695.20 85.70 694.90 88.04 694.76 C90.47 694.61 93.87 694.51 96.78 694.47 C99.70 694.42 102.18 694.47 105.53 694.47 C108.88 694.47 113.01 694.47 116.90 694.47 C120.79 694.47 124.07 694.61 128.85 694.47 C133.76 694.32 140.51 693.73 146.34 693.58 C152.17 693.44 158.00 693.44 163.83 693.58 C169.66 693.73 174.52 694.47 181.32 694.47 C188.12 694.47 196.96 693.58 204.64 693.58 C212.32 693.58 219.12 694.47 227.38 694.47 C235.64 694.47 243.46 693.72 254.19 693.58 C265.95 693.44 290.63 693.58 297.92 693.58" fill="none" stroke="#000" stroke-width="1.00"/>
<path d="M39.00 710.00L43.80 714.80M39.00 714.80L43.80 710.00M41.40 710.00L41.40 714.80" stroke="#000" stroke-width="1.1"/>
<path d="M44.83 704.12L49.63 708.92M44.83 708.92L49.63 704.12M47.23 704.12L47.23 708.92" stroke="#000" stroke-width="1.1"/>
<path d="M47.45 700.00L52.25 704.80M47.45 704.80L52.25 700.00M49.85 700.00L49.85 704.80" stroke="#000" stroke-width="1.1"/>
<path d="M50.08 698.83L54.88 703.63M50.08 703.63L54.88 698.83M52.48 698.83L52.48 703.63" stroke="#000" stroke-width="1.1"/>
<path d="M53.57 697.95L58.37 702.75M53.57 702.75L58.37 697.95M55.97 697.95L55.97 702.75" stroke="#000" stroke-width="1.1"/>
<path d="M56.20 697.06L61.00 701.86M56.20 701.86L61.00 697.06M58.60 697.06L58.60 701.86" stroke="#000" stroke-width="1.1"/>
<path d="M62.32 695.30L67.12 700.10M62.32 700.10L67.12 695.30M64.72 695.30L64.72 700.10" stroke="#000" stroke-width="1.1"/>
<path d="M68.15 694.71L72.95 699.51M68.15 699.51L72.95 694.71M70.55 694.71L70.55 699.51" stroke="#000" stroke-width="1.1"/>
<path d="M73.69 693.24L78.49 698.04M73.69 698.04L78.49 693.24M76.09 693.24L76.09 698.04" stroke="#000" stroke-width="1.1"/>
<path d="M79.81 692.95L84.61 697.75M79.81 697.75L84.61 692.95M82.21 692.95L82.21 697.75" stroke="#000" stroke-width="1.1"/>
<path d="M85.64 692.36L90.44 697.16M85.64 697.16L90.44 692.36M88.04 692.36L88.04 697.16" stroke="#000" stroke-width="1.1"/>
<path d="M94.38 692.07L99.19 696.87M94.38 696.87L99.19 692.07M96.78 692.07L96.78 696.87" stroke="#000" stroke-width="1.1"/>
<path d="M103.13 692.07L107.93 696.87M103.13 696.87L107.93 692.07M105.53 692.07L105.53 696.87" stroke="#000" stroke-width="1.1"/>
<path d="M114.50 692.07L119.30 696.87M114.50 696.87L119.30 692.07M116.90 692.07L116.90 696.87" stroke="#000" stroke-width="1.1"/>
<path d="M126.45 692.07L131.25 696.87M126.45 696.87L131.25 692.07M128.85 692.07L128.85 696.87" stroke="#000" stroke-width="1.1"/>
<path d="M143.94 691.18L148.74 695.98M143.94 695.98L148.74 691.18M146.34 691.18L146.34 695.98" stroke="#000" stroke-width="1.1"/>
<path d="M161.43 691.18L166.23 695.98M161.43 695.98L166.23 691.18M163.83 691.18L163.83 695.98" stroke="#000" stroke-width="1.1"/>
<path d="M178.92 692.07L183.72 696.87M178.92 696.87L183.72 692.07M181.32 692.07L181.32 696.87" stroke="#000" stroke-width="1.1"/>
<path d="M202.24 691.18L207.04 695.98M202.24 695.98L207.04 691.18M204.64 691.18L204.64 695.98" stroke="#000" stroke-width="1.1"/>
<path d="M224.98 692.07L229.78 696.87M224.98 696.87L229.78 692.07M227.38 692.07L227.38 696.87" stroke="#000" stroke-width="1.1"/>
<path d="M251.79 691.18L256.59 695.98M251.79 695.98L256.59 691.18M254.19 691.18L254.19 695.98" stroke="#000" stroke-width="1.1"/>
<path d="M295.52 691.18L300.32 695.98M295.52 695.98L300.32 691.18M297.92 691.18L297.92 695.98" stroke="#000" stroke-width="1.1"/>
<path d="M41.40 712.40 C42.37 710.24 45.82 702.60 47.23 699.46 C48.29 697.11 48.98 695.15 49.85 693.58 C50.71 692.05 51.46 691.04 52.48 690.06 C53.50 689.08 54.95 688.39 55.97 687.70 C57.00 687.02 57.45 686.48 58.60 685.94 C60.06 685.25 62.73 684.27 64.72 683.59 C66.71 682.90 68.66 682.41 70.55 681.82 C72.44 681.24 74.15 680.55 76.09 680.06 C78.03 679.57 80.22 679.28 82.21 678.88 C84.20 678.49 85.71 678.18 88.04 677.71 C90.47 677.22 93.87 676.43 96.78 675.94 C99.70 675.45 102.18 674.87 105.53 674.77 C108.88 674.67 113.01 675.65 116.90 675.36 C120.79 675.06 123.98 673.10 128.85 673.00 C133.76 672.91 140.51 674.77 146.34 674.77 C152.17 674.77 158.00 673.30 163.83 673.00 C169.66 672.71 174.52 673.25 181.32 673.00 C188.12 672.76 196.96 671.68 204.64 671.53 C212.32 671.39 219.12 672.02 227.38 672.12 C235.64 672.22 243.47 672.21 254.19 672.12 C265.95 672.02 290.63 671.63 297.92 671.53" fill="none" stroke="#000" stroke-width="1.00"/>
<path d="M39.10 710.10L43.70 714.70M39.10 714.70L43.70 710.10" stroke="#000" stroke-width="1.2"/>
<path d="M44.93 697.16L49.53 701.76M44.93 701.76L49.53 697.16" stroke="#000" stroke-width="1.2"/>
<path d="M47.55 691.28L52.15 695.88M47.55 695.88L52.15 691.28" stroke="#000" stroke-width="1.2"/>
<path d="M50.18 687.76L54.78 692.36M50.18 692.36L54.78 687.76" stroke="#000" stroke-width="1.2"/>
<path d="M53.67 685.40L58.27 690.00M53.67 690.00L58.27 685.40" stroke="#000" stroke-width="1.2"/>
<path d="M56.30 683.64L60.90 688.24M56.30 688.24L60.90 683.64" stroke="#000" stroke-width="1.2"/>
<path d="M62.42 681.29L67.02 685.89M62.42 685.89L67.02 681.29" stroke="#000" stroke-width="1.2"/>
<path d="M68.25 679.52L72.85 684.12M68.25 684.12L72.85 679.52" stroke="#000" stroke-width="1.2"/>
<path d="M73.79 677.76L78.39 682.36M73.79 682.36L78.39 677.76" stroke="#000" stroke-width="1.2"/>
<path d="M79.91 676.58L84.51 681.18M79.91 681.18L84.51 676.58" stroke="#000" stroke-width="1.2"/>
<path d="M85.74 675.41L90.34 680.01M85.74 680.01L90.34 675.41" stroke="#000" stroke-width="1.2"/>
<path d="M94.48 673.64L99.08 678.24M94.48 678.24L99.08 673.64" stroke="#000" stroke-width="1.2"/>
<path d="M103.23 672.47L107.83 677.07M103.23 677.07L107.83 672.47" stroke="#000" stroke-width="1.2"/>
<path d="M114.60 673.06L119.20 677.66M114.60 677.66L119.20 673.06" stroke="#000" stroke-width="1.2"/>
<path d="M126.55 670.70L131.15 675.30M126.55 675.30L131.15 670.70" stroke="#000" stroke-width="1.2"/>
<path d="M144.04 672.47L148.64 677.07M144.04 677.07L148.64 672.47" stroke="#000" stroke-width="1.2"/>
<path d="M161.53 670.70L166.13 675.30M161.53 675.30L166.13 670.70" stroke="#000" stroke-width="1.2"/>
<path d="M179.02 670.70L183.62 675.30M179.02 675.30L183.62 670.70" stroke="#000" stroke-width="1.2"/>
<path d="M202.34 669.23L206.94 673.83M202.34 673.83L206.94 669.23" stroke="#000" stroke-width="1.2"/>
<path d="M225.08 669.82L229.68 674.42M225.08 674.42L229.68 669.82" stroke="#000" stroke-width="1.2"/>
<path d="M251.89 669.82L256.50 674.42M251.89 674.42L256.50 669.82" stroke="#000" stroke-width="1.2"/>
<path d="M295.62 669.23L300.22 673.83M295.62 673.83L300.22 669.23" stroke="#000" stroke-width="1.2"/>
<path d="M41.40 712.40 C42.37 709.46 45.82 699.17 47.23 694.76 C48.35 691.25 48.98 687.80 49.85 685.94 C50.45 684.66 51.46 683.98 52.48 683.59 C53.50 683.20 54.95 683.78 55.97 683.59 C57.00 683.39 57.59 682.96 58.60 682.41 C60.06 681.63 62.73 679.96 64.72 678.88 C66.71 677.81 68.66 676.83 70.55 675.94 C72.44 675.06 74.15 674.38 76.09 673.59 C78.03 672.81 80.22 672.32 82.21 671.24 C84.20 670.16 85.61 668.59 88.04 667.12 C90.47 665.65 93.87 663.30 96.78 662.42 C99.70 661.54 102.18 662.57 105.53 661.83 C108.88 661.10 113.01 658.50 116.90 658.01 C120.79 657.52 124.06 658.89 128.85 658.89 C133.76 658.89 140.51 659.19 146.34 658.01 C152.17 656.83 158.00 652.57 163.83 651.84 C169.66 651.10 174.52 653.16 181.32 653.60 C188.12 654.04 196.96 654.43 204.64 654.48 C212.32 654.53 219.12 654.14 227.38 653.89 C235.64 653.65 243.46 653.15 254.19 653.01 C265.95 652.86 290.63 653.01 297.92 653.01" fill="none" stroke="#000" stroke-width="1.00"/>
<path d="M41.40 709.40L43.90 714.80L38.90 714.80Z" fill="#000"/>
<path d="M47.23 691.76L49.73 697.16L44.73 697.16Z" fill="#000"/>
<path d="M49.85 682.94L52.35 688.34L47.35 688.34Z" fill="#000"/>
<path d="M52.48 680.59L54.98 685.99L49.98 685.99Z" fill="#000"/>
<path d="M55.97 680.59L58.47 685.99L53.47 685.99Z" fill="#000"/>
<path d="M58.60 679.41L61.10 684.81L56.10 684.81Z" fill="#000"/>
<path d="M64.72 675.88L67.22 681.28L62.22 681.28Z" fill="#000"/>
<path d="M70.55 672.94L73.05 678.34L68.05 678.34Z" fill="#000"/>
<path d="M76.09 670.59L78.59 675.99L73.59 675.99Z" fill="#000"/>
<path d="M82.21 668.24L84.71 673.64L79.71 673.64Z" fill="#000"/>
<path d="M88.04 664.12L90.54 669.52L85.54 669.52Z" fill="#000"/>
<path d="M96.78 659.42L99.28 664.82L94.28 664.82Z" fill="#000"/>
<path d="M105.53 658.83L108.03 664.23L103.03 664.23Z" fill="#000"/>
<path d="M116.90 655.01L119.40 660.41L114.40 660.41Z" fill="#000"/>
<path d="M128.85 655.89L131.35 661.29L126.35 661.29Z" fill="#000"/>
<path d="M146.34 655.01L148.84 660.41L143.84 660.41Z" fill="#000"/>
<path d="M163.83 648.84L166.33 654.24L161.33 654.24Z" fill="#000"/>
<path d="M181.32 650.60L183.82 656.00L178.82 656.00Z" fill="#000"/>
<path d="M204.64 651.48L207.14 656.88L202.14 656.88Z" fill="#000"/>
<path d="M227.38 650.89L229.88 656.29L224.88 656.29Z" fill="#000"/>
<path d="M254.19 650.01L256.69 655.41L251.69 655.41Z" fill="#000"/>
<path d="M297.92 650.01L300.42 655.41L295.42 655.41Z" fill="#000"/>
<path d="M41.40 712.40 C42.37 709.46 45.82 699.46 47.23 694.76 C48.48 690.58 48.98 687.80 49.85 684.18 C50.73 680.55 51.46 675.94 52.48 673.00 C53.44 670.23 54.95 668.74 55.97 666.54 C57.00 664.33 57.14 662.22 58.60 659.77 C60.06 657.32 62.73 654.04 64.72 651.84 C66.71 649.63 68.66 648.11 70.55 646.54 C72.44 644.98 74.19 644.43 76.09 642.43 C78.03 640.37 80.22 636.74 82.21 634.20 C84.20 631.65 85.61 629.59 88.04 627.14 C90.47 624.69 93.87 621.75 96.78 619.50 C99.70 617.24 102.18 615.67 105.53 613.62 C108.88 611.56 113.01 608.37 116.90 607.15 C120.79 605.92 124.10 606.93 128.85 606.27 C133.76 605.58 140.51 603.23 146.34 603.03 C152.17 602.84 158.00 605.38 163.83 605.09 C169.66 604.80 174.52 601.76 181.32 601.27 C188.12 600.78 196.96 602.05 204.64 602.15 C212.32 602.25 219.12 601.81 227.38 601.86 C235.64 601.90 243.47 602.67 254.19 602.44 C265.95 602.20 290.63 600.73 297.92 600.39" fill="none" stroke="#000" stroke-width="1.00"/>
<rect x="39.30" y="710.30" width="4.20" height="4.20" fill="#000"/>
<rect x="45.13" y="692.66" width="4.20" height="4.20" fill="#000"/>
<rect x="47.75" y="682.08" width="4.20" height="4.20" fill="#000"/>
<rect x="50.38" y="670.90" width="4.20" height="4.20" fill="#000"/>
<rect x="53.87" y="664.44" width="4.20" height="4.20" fill="#000"/>
<rect x="56.50" y="657.67" width="4.20" height="4.20" fill="#000"/>
<rect x="62.62" y="649.74" width="4.20" height="4.20" fill="#000"/>
<rect x="68.45" y="644.44" width="4.20" height="4.20" fill="#000"/>
<rect x="73.99" y="640.33" width="4.20" height="4.20" fill="#000"/>
<rect x="80.11" y="632.10" width="4.20" height="4.20" fill="#000"/>
<rect x="85.94" y="625.04" width="4.20" height="4.20" fill="#000"/>
<rect x="94.69" y="617.40" width="4.20" height="4.20" fill="#000"/>
<rect x="103.43" y="611.52" width="4.20" height="4.20" fill="#000"/>
<rect x="114.80" y="605.05" width="4.20" height="4.20" fill="#000"/>
<rect x="126.75" y="604.17" width="4.20" height="4.20" fill="#000"/>
<rect x="144.24" y="600.93" width="4.20" height="4.20" fill="#000"/>
<rect x="161.73" y="602.99" width="4.20" height="4.20" fill="#000"/>
<rect x="179.22" y="599.17" width="4.20" height="4.20" fill="#000"/>
<rect x="202.54" y="600.05" width="4.20" height="4.20" fill="#000"/>
<rect x="225.28" y="599.76" width="4.20" height="4.20" fill="#000"/>
<rect x="252.09" y="600.34" width="4.20" height="4.20" fill="#000"/>
<rect x="295.82" y="598.29" width="4.20" height="4.20" fill="#000"/>
<path d="M41.40 712.40 C42.37 706.32 45.82 683.44 47.23 675.94 C47.89 672.44 48.98 670.85 49.85 667.42 C50.73 663.99 51.46 658.55 52.48 655.36 C53.44 652.36 54.95 650.27 55.97 648.31 C56.97 646.40 57.27 645.30 58.60 643.60 C60.06 641.74 62.89 640.19 64.72 637.14 C66.71 633.80 68.66 627.63 70.55 623.61 C72.44 619.59 74.15 617.34 76.09 613.03 C78.03 608.72 80.22 602.44 82.21 597.74 C84.20 593.04 85.61 586.76 88.04 584.80 C90.47 582.84 93.87 587.84 96.78 585.98 C99.70 584.12 102.18 576.62 105.53 573.63 C108.88 570.64 113.01 569.81 116.90 568.05 C120.79 566.28 124.46 565.81 128.85 563.05 C133.76 559.96 140.51 551.09 146.34 549.52 C152.17 547.96 158.00 553.93 163.83 553.64 C169.66 553.35 174.52 548.74 181.32 547.76 C188.12 546.78 196.96 548.45 204.64 547.76 C212.32 547.07 219.12 543.94 227.38 543.64 C235.64 543.35 243.43 546.09 254.19 546.00 C265.95 545.90 290.63 543.55 297.92 543.06" fill="none" stroke="#000" stroke-width="1.00"/>
<path d="M41.40 709.70L44.10 712.40L41.40 715.10L38.70 712.40Z" fill="#000"/>
<path d="M47.23 673.24L49.93 675.94L47.23 678.64L44.53 675.94Z" fill="#000"/>
<path d="M49.85 664.72L52.55 667.42L49.85 670.12L47.15 667.42Z" fill="#000"/>
<path d="M52.48 652.66L55.18 655.36L52.48 658.06L49.78 655.36Z" fill="#000"/>
<path d="M55.97 645.61L58.67 648.31L55.97 651.01L53.27 648.31Z" fill="#000"/>
<path d="M58.60 640.90L61.30 643.60L58.60 646.30L55.90 643.60Z" fill="#000"/>
<path d="M64.72 634.44L67.42 637.14L64.72 639.84L62.02 637.14Z" fill="#000"/>
<path d="M70.55 620.91L73.25 623.61L70.55 626.31L67.85 623.61Z" fill="#000"/>
<path d="M76.09 610.33L78.79 613.03L76.09 615.73L73.39 613.03Z" fill="#000"/>
<path d="M82.21 595.04L84.91 597.74L82.21 600.44L79.51 597.74Z" fill="#000"/>
<path d="M88.04 582.10L90.74 584.80L88.04 587.50L85.34 584.80Z" fill="#000"/>
<path d="M96.78 583.28L99.48 585.98L96.78 588.68L94.08 585.98Z" fill="#000"/>
<path d="M105.53 570.93L108.23 573.63L105.53 576.33L102.83 573.63Z" fill="#000"/>
<path d="M116.90 565.35L119.60 568.05L116.90 570.75L114.20 568.05Z" fill="#000"/>
<path d="M128.85 560.35L131.55 563.05L128.85 565.75L126.15 563.05Z" fill="#000"/>
<path d="M146.34 546.82L149.04 549.52L146.34 552.22L143.64 549.52Z" fill="#000"/>
<path d="M163.83 550.94L166.53 553.64L163.83 556.34L161.13 553.64Z" fill="#000"/>
<path d="M181.32 545.06L184.02 547.76L181.32 550.46L178.62 547.76Z" fill="#000"/>
<path d="M204.64 545.06L207.34 547.76L204.64 550.46L201.94 547.76Z" fill="#000"/>
<path d="M227.38 540.94L230.08 543.64L227.38 546.34L224.68 543.64Z" fill="#000"/>
<path d="M254.19 543.30L256.89 546.00L254.19 548.70L251.50 546.00Z" fill="#000"/>
<path d="M297.92 540.36L300.62 543.06L297.92 545.76L295.22 543.06Z" fill="#000"/>
<rect x="49.40" y="488.60" width="68.50" height="52.60" fill="#fff" stroke="#3a3a3a" stroke-width="1.1"/>
<line x1="60.60" y1="496.00" x2="78.00" y2="496.00" stroke="#000" stroke-width="1"/>
<path d="M69.30 493.30L72.00 496.00L69.30 498.70L66.60 496.00Z" fill="#000"/>
<text x="81.40" y="498.40" font-size="10.90">point 1</text>
<line x1="60.60" y1="506.10" x2="78.00" y2="506.10" stroke="#000" stroke-width="1"/>
<rect x="67.20" y="504.00" width="4.20" height="4.20" fill="#000"/>
<text x="81.40" y="508.50" font-size="10.90">point 2</text>
<line x1="60.60" y1="516.20" x2="78.00" y2="516.20" stroke="#000" stroke-width="1"/>
<path d="M69.30 513.20L71.80 518.60L66.80 518.60Z" fill="#000"/>
<text x="81.40" y="518.60" font-size="10.90">point 3</text>
<line x1="60.60" y1="526.30" x2="78.00" y2="526.30" stroke="#000" stroke-width="1"/>
<path d="M67.00 524.00L71.60 528.60M67.00 528.60L71.60 524.00" stroke="#000" stroke-width="1.2"/>
<text x="81.40" y="528.70" font-size="10.90">point 4</text>
<line x1="60.60" y1="536.40" x2="78.00" y2="536.40" stroke="#000" stroke-width="1"/>
<path d="M66.90 534.00L71.70 538.80M66.90 538.80L71.70 534.00M69.30 534.00L69.30 538.80" stroke="#000" stroke-width="1.1"/>
<text x="81.40" y="538.80" font-size="10.90">point 5</text>
</svg>
</body></html>
